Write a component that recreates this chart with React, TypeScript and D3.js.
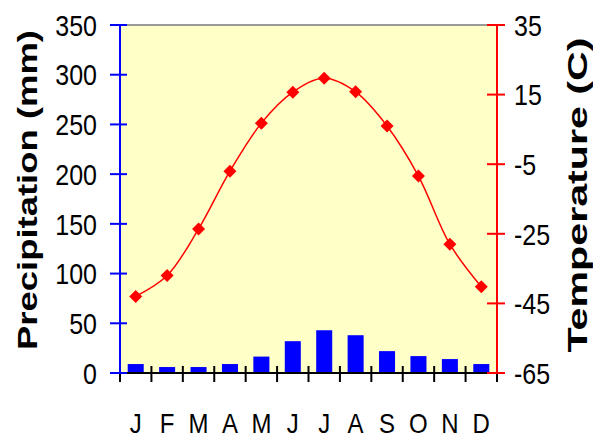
import React from "react";
import * as d3 from "d3";

const months = ["J", "F", "M", "A", "M", "J", "J", "A", "S", "O", "N", "D"];
const precipitation = [9, 6, 6, 9, 16.5, 32, 43, 38, 22, 17, 14, 9];
const temperature = [-43, -37, -23.6, -7, 6.8, 15.7, 19.7, 15.8, 6, -8.4, -28, -40.2];
const precipTicks = [0, 50, 100, 150, 200, 250, 300, 350];
const tempTicks = [-65, -45, -25, -5, 15, 35];

const W = 593;
const H = 439;
const L = 120;
const R = 497;
const T = 25;
const B = 373;
const FONT = "'Liberation Sans', Arial, sans-serif";

export default function App() {
  const idx = months.map((_, i) => i);
  const x = d3.scaleBand<number>().domain(idx).range([L, R]).paddingInner(0.49).paddingOuter(0.245);
  const step = (R - L) / months.length;
  const cx = (i: number) => L + step * (i + 0.5);
  const yP = d3.scaleLinear().domain([0, 350]).range([B, T]);
  const yT = d3.scaleLinear().domain([-65, 35]).range([B, T]);
  const line = d3
    .line<number>()
    .x((d, i) => cx(i))
    .y((d) => yT(d))
    .curve(d3.curveCatmullRom.alpha(0.5));
  const boundaries = d3.range(months.length + 1).map((i) => L + step * i);
  const diamond = (px: number, py: number, r: number) =>
    `M${px},${py - r}L${px + r},${py}L${px},${py + r}L${px - r},${py}Z`;

  return (
    <svg width={W} height={H} style={{ position: "absolute", left: 0, top: 0, background: "#fff" }}>
      <rect x={L} y={T} width={R - L} height={B - T} fill="#FFFFC8" />
      <line x1={L} x2={R} y1={T} y2={T} stroke="#999" strokeWidth={2} />
      {/* bars */}
      {precipitation.map((v, i) => (
        <rect key={i} x={x(i)} y={yP(v)} width={x.bandwidth()} height={B - yP(v)} fill="#0000FF" />
      ))}
      {/* x axis */}
      <line x1={L} x2={R} y1={B} y2={B} stroke="#000" strokeWidth={2} />
      {boundaries.map((bx, i) => (
        <line key={i} x1={bx} x2={bx} y1={B - 7} y2={B + 9} stroke="#000" strokeWidth={2} />
      ))}
      {months.map((m, i) => (
        <text
          key={i}
          transform={`translate(${cx(i)},433) scale(1,1.15)`}
          textAnchor="middle"
          fontFamily={FONT}
          fontSize={24}
          fill="#000"
        >
          {m}
        </text>
      ))}
      {/* left axis */}
      <line x1={L} x2={L} y1={T} y2={B} stroke="#0000FF" strokeWidth={2} />
      {precipTicks.map((t) => (
        <g key={t}>
          <line x1={110} x2={127} y1={yP(t)} y2={yP(t)} stroke="#0000FF" strokeWidth={2} />
          <text
            transform={`translate(97,${yP(t) + 10.7}) scale(1,1.2)`}
            textAnchor="end"
            fontFamily={FONT}
            fontSize={25}
            fill="#000"
          >
            {t}
          </text>
        </g>
      ))}
      {/* right axis */}
      <line x1={R} x2={R} y1={T} y2={B} stroke="#FF0000" strokeWidth={2} />
      {tempTicks.map((t) => (
        <g key={t}>
          <line x1={487} x2={505} y1={yT(t)} y2={yT(t)} stroke="#FF0000" strokeWidth={2} />
          <text
            transform={`translate(514,${yT(t) + 10.7}) scale(1,1.2)`}
            textAnchor="start"
            fontFamily={FONT}
            fontSize={25}
            fill="#000"
          >
            {t}
          </text>
        </g>
      ))}
      {/* temperature line */}
      <path d={line(temperature) || ""} fill="none" stroke="#FF0000" strokeWidth={1.5} />
      {temperature.map((v, i) => (
        <path key={i} d={diamond(cx(i), yT(v), 6.5)} fill="#FF0000" />
      ))}
      {/* axis titles */}
      <text
        transform="translate(37,190) rotate(-90)"
        textAnchor="middle"
        fontFamily={FONT}
        fontWeight="bold"
        fontSize={28}
        textLength={320}
        lengthAdjust="spacingAndGlyphs"
        fill="#000"
      >
        Precipitation (mm)
      </text>
      <text
        transform="translate(587,195) rotate(-90)"
        textAnchor="middle"
        fontFamily={FONT}
        fontWeight="bold"
        fontSize={28}
        textLength={315}
        lengthAdjust="spacingAndGlyphs"
        fill="#000"
      >
        Temperature (C)
      </text>
    </svg>
  );
}
